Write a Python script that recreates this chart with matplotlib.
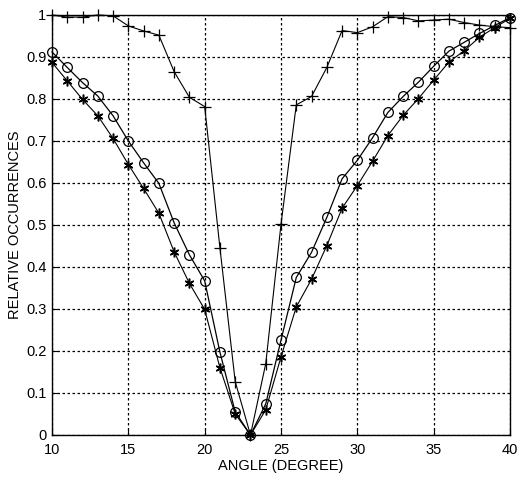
#!/usr/bin/python3

# imports
import numpy as np
import matplotlib
matplotlib.use("Agg")
import matplotlib.pyplot as plt

# data (angle in degrees, 10..40 step 1)
angle = list(range(10, 41))

# open circles
occ_circle = [0.912, 0.875, 0.839, 0.807, 0.760, 0.700, 0.648, 0.599, 0.505, 0.429,
              0.367, 0.197, 0.055, 0.000, 0.074, 0.226, 0.375, 0.435, 0.518, 0.610,
              0.654, 0.708, 0.768, 0.806, 0.840, 0.878, 0.914, 0.935, 0.956, 0.975,
              0.994]

# stars
occ_star = [0.887, 0.843, 0.799, 0.760, 0.706, 0.644, 0.587, 0.528, 0.436, 0.361,
            0.299, 0.160, 0.050, 0.000, 0.060, 0.186, 0.305, 0.371, 0.451, 0.540,
            0.594, 0.652, 0.713, 0.761, 0.801, 0.845, 0.888, 0.915, 0.947, 0.970,
            0.992]

# plus signs
occ_plus = [1.000, 0.995, 0.995, 1.000, 0.998, 0.974, 0.962, 0.952, 0.865, 0.804,
            0.782, 0.445, 0.127, 0.000, 0.170, 0.502, 0.786, 0.806, 0.875, 0.963,
            0.958, 0.972, 0.996, 0.994, 0.986, 0.988, 0.990, 0.982, 0.976, 0.972,
            0.970]

xticks = [10, 15, 20, 25, 30, 35, 40]
yticks = [0, 0.1, 0.2, 0.3, 0.4, 0.5, 0.6, 0.7, 0.8, 0.9, 1]
ytick_labels = ['0', '0.1', '0.2', '0.3', '0.4', '0.5', '0.6', '0.7', '0.8', '0.9', '1']

plt.rcParams['font.family'] = ['Liberation Sans', 'DejaVu Sans']

fig = plt.figure(figsize=(5.18, 4.87), dpi=100)
ax = fig.add_axes([0.1004, 0.1068, 0.8842, 0.8624])

ax.plot(angle, occ_plus, color='black', lw=0.8, marker='+', ms=8, mew=0.9, clip_on=False)
# asterisk marker like the old matlab '*'
ax.plot(angle, occ_star, color='black', lw=0.8, marker=(6, 2, 0), ms=7, mew=1.1,
        clip_on=False)
ax.plot(angle, occ_circle, color='black', lw=0.9, marker='o', ms=7, mew=0.9,
        mfc='none', clip_on=False)

ax.set_xlim(10, 40)
ax.set_ylim(0, 1)
ax.set_xticks(xticks)
ax.set_yticks(yticks)
ax.set_yticklabels(ytick_labels)
ax.tick_params(direction='in', length=4, labelsize=10.5, color='black')
ax.tick_params(axis='x', pad=6)
ax.tick_params(axis='y', pad=4)
ax.grid(True, color='black', linestyle=(0, (2, 2)), linewidth=0.9)

for s in ax.spines.values():
    s.set_linewidth(1.0)

ax.set_xlabel('ANGLE (DEGREE)', fontsize=10.5, labelpad=1)
ax.set_ylabel('RELATIVE OCCURRENCES', fontsize=10.5, labelpad=3)

fig.savefig('out.png', dpi=100)
